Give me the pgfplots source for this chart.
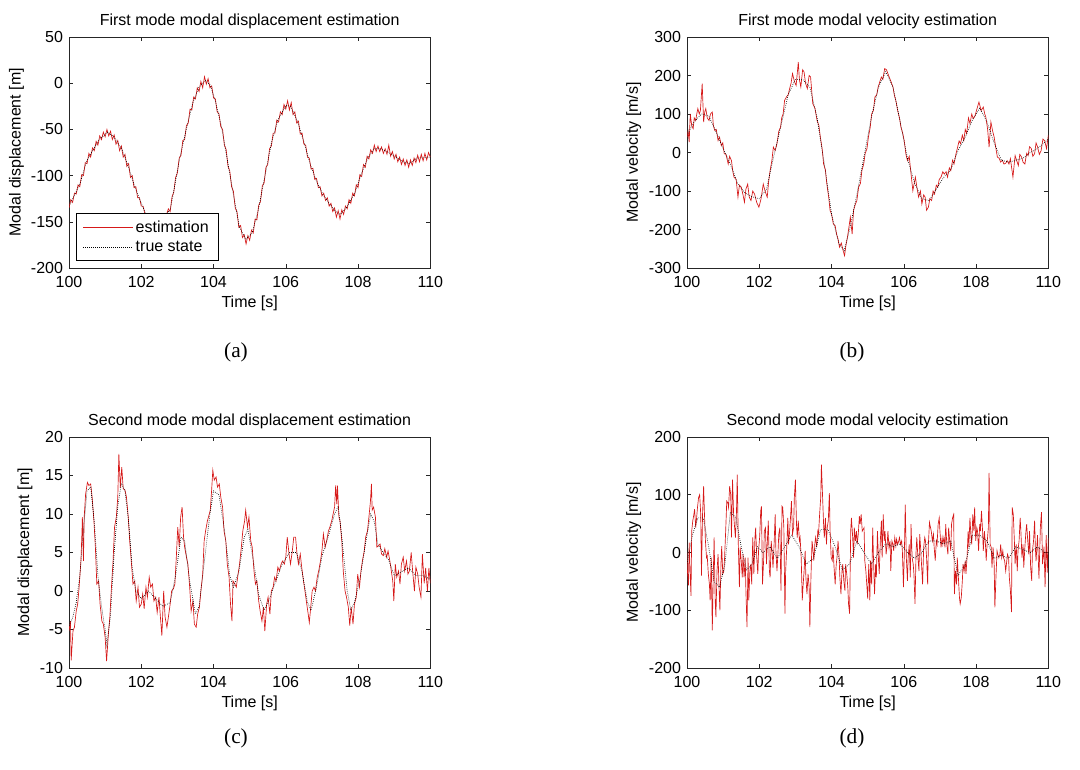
\documentclass[border=0pt]{standalone}
\usepackage{fontspec}
\setmainfont{Liberation Sans}
\newfontfamily\capfont{Liberation Serif}
\usepackage{pgfplots}
\pgfplotsset{compat=1.18}
\definecolor{est}{rgb}{0.84,0.1,0.1}
\newcommand{\fs}{\fontsize{12}{13}\selectfont}
\pgfplotsset{
 mat/.style={
  scale only axis, width=271pt, height=173.25pt,
  xmin=100, xmax=110, xtick={100,102,104,106,108,110},
  tick align=inside, major tick length=3pt,
  axis line style={line width=0.5pt, black!85},
  every tick/.style={black!85, line width=0.4pt},
  /pgf/number format/assume math mode=true,
  /pgf/number format/1000 sep={},
  scaled ticks=false,
  tick label style={font=\fs},
  xticklabel style={inner sep=0pt, anchor=center, yshift=-10.7pt},
  yticklabel style={inner sep=0pt, anchor=east, xshift=-4.3pt},
  every axis title/.style={font=\fs, at={(0.5,1)}, anchor=center, yshift=11.5pt, inner sep=0pt},
  every axis x label/.style={at={(0.5,0)}, anchor=center, yshift=-26.3pt, font=\fs},
  xlabel={Time [s]},
  legend image code/.code={\draw[##1] (0pt,0pt) -- (37pt,0pt);},
 },
 ylab/.style={every axis y label/.style={at={(0,0.5)}, xshift=-#1, rotate=90, anchor=center, font=\fs}},
 est/.style={color=est, line width=0.5pt},
 tru/.style={black, densely dotted, line width=0.5pt},
}
\begin{document}
\begin{tikzpicture}
\path (0pt,0pt) rectangle (810pt,576.75pt);
% (a)
\begin{axis}[mat, ylab=39.3pt, at={(51.75pt,375.75pt)}, anchor=south west,
  ymin=-200, ymax=50, ytick={-200,-150,...,50},
  title={First mode modal displacement estimation},
  ylabel={Modal displacement [m]},
  legend style={at={(0,0)}, anchor=south west, xshift=5.3pt, yshift=5.3pt, draw=black, line width=0.5pt, font=\fs, inner xsep=5pt, inner ysep=3.5pt, row sep=1pt, cells={anchor=west}, fill=white}]
\addplot[est] table[header=false, row sep=\\, y index=0, x expr=100+0.05*\coordindex] {
-135\\ -126\\ -129\\ -119\\ -120\\ -110\\ -112\\ -99\\ -100\\ -86\\
-87\\ -76\\ -80\\ -70\\ -73\\ -63\\ -67\\ -57\\ -61\\ -53\\
-58\\ -50\\ -57\\ -52\\ -61\\ -56\\ -66\\ -62\\ -73\\ -68\\
-80\\ -77\\ -90\\ -87\\ -102\\ -100\\ -113\\ -112\\ -124\\ -124\\
-133\\ -133\\ -141\\ -141\\ -148\\ -147\\ -151\\ -148\\ -152\\ -148\\
-151\\ -145\\ -147\\ -141\\ -142\\ -136\\ -139\\ -123\\ -118\\ -102\\
-97\\ -81\\ -78\\ -62\\ -61\\ -46\\ -43\\ -28\\ -29\\ -15\\
-17\\ -5\\ -9\\ 2\\ -5\\ 7\\ -1\\ 5\\ -5\\ -3\\
-16\\ -17\\ -31\\ -33\\ -47\\ -50\\ -67\\ -72\\ -90\\ -95\\
-112\\ -117\\ -135\\ -139\\ -156\\ -154\\ -167\\ -164\\ -174\\ -165\\
-170\\ -159\\ -162\\ -147\\ -148\\ -132\\ -128\\ -111\\ -108\\ -91\\
-88\\ -71\\ -68\\ -54\\ -54\\ -40\\ -42\\ -31\\ -34\\ -23\\
-28\\ -19\\ -29\\ -21\\ -34\\ -31\\ -43\\ -41\\ -55\\ -54\\
-66\\ -67\\ -80\\ -81\\ -93\\ -92\\ -104\\ -103\\ -113\\ -112\\
-122\\ -119\\ -127\\ -124\\ -133\\ -130\\ -139\\ -135\\ -145\\ -138\\
-147\\ -137\\ -142\\ -133\\ -136\\ -126\\ -130\\ -119\\ -122\\ -110\\
-113\\ -99\\ -101\\ -88\\ -91\\ -79\\ -82\\ -72\\ -76\\ -67\\
-74\\ -68\\ -74\\ -69\\ -76\\ -71\\ -77\\ -67\\ -79\\ -74\\
-82\\ -77\\ -85\\ -80\\ -88\\ -82\\ -89\\ -83\\ -91\\ -83\\
-89\\ -81\\ -86\\ -78\\ -85\\ -77\\ -84\\ -76\\ -83\\ -75\\
-80\\
};
\addlegendentry{estimation}
\addplot[tru] coordinates {(100,-133)(100.13,-123)(100.31,-108)(100.49,-84)(100.67,-72)(100.84,-61)(101.07,-53)(101.24,-58)(101.47,-72)(101.64,-90)(101.82,-112)(102.0,-130)(102.13,-142)(102.35,-150)(102.55,-148)(102.8,-137)(102.93,-110)(103.07,-80)(103.24,-51)(103.42,-22)(103.6,-4)(103.78,3)(103.91,-2)(104.04,-18)(104.22,-47)(104.4,-87)(104.53,-116)(104.71,-155)(104.89,-169)(105.07,-162)(105.24,-137)(105.42,-101)(105.6,-65)(105.78,-40)(106.0,-24)(106.13,-25)(106.31,-40)(106.49,-62)(106.67,-87)(106.84,-105)(107.02,-120)(107.2,-130)(107.38,-139)(107.51,-142)(107.69,-134)(107.91,-119)(108.09,-98)(108.27,-81)(108.44,-71)(108.62,-71)(108.8,-74)(109.02,-79)(109.24,-85)(109.42,-87)(109.63,-81)(110,-80)};
\addlegendentry{true state}
\end{axis}
% (b)
\begin{axis}[mat, ylab=40pt, at={(515.25pt,375.75pt)}, anchor=south west,
  ymin=-300, ymax=300, ytick={-300,-200,...,300},
  title={First mode modal velocity estimation},
  ylabel={Modal velocity [m/s]}]
\addplot[est] coordinates {(100.00,40)(100.03,55)(100.06,27)(100.09,100)(100.13,70)(100.17,62)(100.20,90)(100.24,83)(100.27,100)(100.30,114)(100.34,100)(100.37,109)(100.42,179)(100.46,79)(100.49,105)(100.52,114)(100.56,90)(100.61,83)(100.65,100)(100.70,105)(100.73,70)(100.77,57)(100.81,60)(100.86,31)(100.90,40)(100.95,18)(100.99,25)(101.03,-3)(101.08,-5)(101.14,-30)(101.18,-10)(101.23,-21)(101.27,-50)(101.30,-64)(101.36,-70)(101.41,-116)(101.45,-85)(101.50,-90)(101.55,-110)(101.59,-129)(101.63,-95)(101.68,-82)(101.72,-115)(101.77,-125)(101.82,-100)(101.87,-108)(101.93,-130)(101.99,-142)(102.05,-120)(102.11,-82)(102.16,-100)(102.22,-116)(102.26,-75)(102.30,-47)(102.35,-20)(102.39,14)(102.44,5)(102.49,23)(102.54,55)(102.59,66)(102.62,90)(102.66,100)(102.70,135)(102.75,144)(102.80,150)(102.84,166)(102.88,180)(102.92,205)(102.97,185)(103.02,174)(103.08,235)(103.11,190)(103.15,170)(103.20,215)(103.24,209)(103.28,180)(103.33,166)(103.38,200)(103.42,196)(103.48,127)(103.54,115)(103.60,83)(103.65,70)(103.69,40)(103.74,10)(103.78,-30)(103.83,-45)(103.87,-82)(103.92,-115)(103.96,-151)(104.00,-160)(104.05,-186)(104.10,-190)(104.14,-212)(104.18,-225)(104.22,-246)(104.27,-235)(104.31,-251)(104.36,-268)(104.40,-240)(104.44,-220)(104.48,-195)(104.52,-168)(104.57,-212)(104.61,-150)(104.66,-134)(104.70,-125)(104.75,-90)(104.80,-80)(104.84,-47)(104.89,-30)(104.93,-3)(104.98,10)(105.02,40)(105.07,65)(105.11,100)(105.16,110)(105.20,144)(105.25,150)(105.29,170)(105.34,185)(105.38,196)(105.42,190)(105.47,218)(105.52,215)(105.56,205)(105.60,195)(105.65,183)(105.70,170)(105.74,148)(105.78,135)(105.83,109)(105.88,90)(105.92,66)(105.97,50)(106.01,31)(106.06,-5)(106.10,-21)(106.15,-10)(106.19,-47)(106.25,-99)(106.32,-64)(106.37,-95)(106.41,-116)(106.46,-100)(106.50,-134)(106.55,-110)(106.59,-116)(106.63,-150)(106.68,-142)(106.72,-120)(106.77,-125)(106.81,-100)(106.85,-108)(106.90,-85)(106.94,-90)(106.98,-70)(107.03,-64)(107.08,-50)(107.12,-56)(107.17,-50)(107.21,-64)(107.26,-40)(107.30,-47)(107.35,-20)(107.39,-30)(107.44,-5)(107.48,10)(107.53,30)(107.57,23)(107.62,45)(107.66,31)(107.70,60)(107.74,49)(107.79,90)(107.83,75)(107.88,100)(107.92,88)(107.97,95)(108.01,109)(108.08,131)(108.14,109)(108.20,118)(108.24,100)(108.27,92)(108.32,60)(108.36,14)(108.41,79)(108.46,55)(108.50,40)(108.55,10)(108.59,-12)(108.64,-15)(108.68,-25)(108.73,-20)(108.77,-30)(108.82,-28)(108.86,-21)(108.91,-30)(108.95,-16)(109.02,-64)(109.08,-8)(109.12,-20)(109.17,-34)(109.21,-5)(109.26,-12)(109.30,-25)(109.35,-30)(109.40,-2)(109.44,-8)(109.48,15)(109.53,10)(109.57,-10)(109.62,-3)(109.66,25)(109.70,15)(109.75,-5)(109.80,5)(109.85,35)(109.90,30)(109.95,10)(110.00,45)};
\addplot[tru] coordinates {(100,45)(100.2,80)(100.4,100)(100.6,95)(100.8,55)(101.0,10)(101.2,-30)(101.4,-80)(101.6,-105)(101.8,-115)(102.0,-120)(102.2,-95)(102.4,-10)(102.6,70)(102.8,150)(103.0,190)(103.2,190)(103.4,170)(103.6,90)(103.8,-30)(104.0,-160)(104.2,-235)(104.35,-255)(104.5,-200)(104.7,-110)(104.9,-10)(105.1,90)(105.3,170)(105.5,210)(105.7,170)(105.9,80)(106.1,-15)(106.3,-80)(106.5,-120)(106.7,-125)(106.9,-95)(107.1,-65)(107.3,-45)(107.5,5)(107.7,40)(107.9,85)(108.1,115)(108.3,80)(108.5,25)(108.7,-20)(108.9,-25)(109.1,-20)(109.3,-15)(109.5,0)(109.7,10)(110,35)};
\end{axis}
% (c)
\begin{axis}[mat, ylab=33pt, at={(51.75pt,75.75pt)}, anchor=south west,
  ymin=-10, ymax=20, ytick={-10,-5,...,20},
  title={Second mode modal displacement estimation},
  ylabel={Modal displacement [m]}]
\addplot[est] coordinates {(100.00,-5.2)(100.04,-3.9)(100.06,-9)(100.11,-5.2)(100.15,-4.7)(100.20,-2.6)(100.24,-1.7)(100.28,0.5)(100.33,3.9)(100.36,7.8)(100.37,9.6)(100.40,3.9)(100.42,9.6)(100.46,12.6)(100.51,14.1)(100.55,13.7)(100.60,13.9)(100.64,12.2)(100.69,9.1)(100.73,5.7)(100.77,0.9)(100.82,1.3)(100.86,-1.7)(100.91,-3.9)(100.95,-4.3)(101.00,-6)(101.04,-9.1)(101.09,-5.6)(101.13,-3.4)(101.18,0.9)(101.22,3.9)(101.26,8.3)(101.31,9.6)(101.35,12.2)(101.38,17.8)(101.42,13.4)(101.46,16.1)(101.50,13.3)(101.55,13.1)(101.59,12.2)(101.64,9.6)(101.68,6.5)(101.73,3.5)(101.77,0.9)(101.82,1.3)(101.86,-1.3)(101.91,0.5)(101.95,-2.1)(102.00,-1.7)(102.04,-0.4)(102.08,-2.3)(102.13,0.5)(102.17,-0.8)(102.22,1.8)(102.26,0.5)(102.31,0.9)(102.35,-1.3)(102.40,-0.8)(102.44,-2.8)(102.49,-0.8)(102.53,-3.4)(102.57,-5.8)(102.62,0)(102.66,-3.4)(102.71,-4.7)(102.75,-3.4)(102.80,-1.7)(102.84,0)(102.89,0.3)(102.93,0.9)(102.97,4.4)(103.01,8.3)(103.05,5.7)(103.09,9.6)(103.13,10.9)(103.17,7)(103.20,5.7)(103.25,4.4)(103.29,3.5)(103.34,0.5)(103.38,-2.6)(103.43,-1.3)(103.47,-4.3)(103.52,-4.7)(103.56,-3)(103.61,-2.1)(103.65,0)(103.70,2.2)(103.74,6.5)(103.78,7.8)(103.83,9.1)(103.86,9.6)(103.91,10.5)(103.95,13.3)(103.98,15.7)(104.02,14.4)(104.07,14.8)(104.11,13.5)(104.16,13.9)(104.20,12.2)(104.25,10.9)(104.29,7.8)(104.34,6.5)(104.38,3.5)(104.43,1.8)(104.47,-1.7)(104.51,-3.9)(104.54,1.3)(104.59,0.9)(104.63,0.5)(104.68,2.2)(104.72,3.5)(104.77,5.7)(104.81,7.8)(104.86,9.1)(104.89,10.5)(104.94,8.3)(104.98,9.6)(105.03,6.5)(105.07,5.7)(105.12,2.6)(105.16,0.9)(105.20,1.3)(105.25,-1.3)(105.29,-2.6)(105.34,-3.9)(105.38,-2.1)(105.42,-5.2)(105.47,-1.7)(105.51,-0.8)(105.56,-3)(105.60,0)(105.65,0.5)(105.69,1.8)(105.73,1.3)(105.78,3.1)(105.82,2.6)(105.87,3.5)(105.91,3.9)(105.96,3.5)(106.00,4.4)(106.04,7)(106.09,4.8)(106.13,3.5)(106.18,5.2)(106.22,7)(106.27,7)(106.31,4.8)(106.35,3.5)(106.40,4.8)(106.44,3.1)(106.49,1.3)(106.53,0)(106.58,-1.7)(106.62,-3)(106.65,-4.1)(106.69,-2.1)(106.73,0)(106.78,0.5)(106.82,0)(106.87,1.8)(106.91,2.6)(106.96,3.9)(107.00,5.2)(107.04,7.4)(107.09,5.7)(107.13,6.5)(107.18,7.8)(107.22,8.3)(107.27,9.1)(107.31,10)(107.35,10.9)(107.38,13.7)(107.41,11.3)(107.43,13.7)(107.47,9.6)(107.50,9.1)(107.55,6.5)(107.59,2.6)(107.64,0)(107.68,-0.8)(107.73,-2.1)(107.77,-4.5)(107.81,-2.1)(107.86,-4.3)(107.90,-1.7)(107.95,-0.8)(107.99,2.2)(108.04,0.5)(108.08,2.6)(108.12,3.9)(108.17,5.2)(108.21,7)(108.26,7.8)(108.30,9.6)(108.34,11.5)(108.37,13.9)(108.39,10.5)(108.43,10.9)(108.48,9.6)(108.52,5.7)(108.57,5.9)(108.61,6.1)(108.65,4.8)(108.70,4.6)(108.74,5.5)(108.79,4.4)(108.83,5.2)(108.88,3.9)(108.92,2.6)(108.96,1.3)(108.99,-1.3)(109.03,3.5)(109.07,1.8)(109.12,2.6)(109.16,0.9)(109.20,3.5)(109.25,4.4)(109.29,2.6)(109.34,3.9)(109.38,2.2)(109.42,2.6)(109.47,5)(109.51,2.6)(109.56,0)(109.60,3.1)(109.65,2.2)(109.69,0.5)(109.74,-0.8)(109.78,4.8)(109.83,1)(109.87,3)(109.92,0)(109.96,3)(110.00,1)};
\addplot[tru] coordinates {(100,-4.5)(100.1,-3.5)(100.2,-1.5)(100.3,2)(100.4,8)(100.5,13)(100.6,13.5)(100.7,9)(100.8,2)(100.9,-2)(101.0,-5)(101.05,-7)(101.15,-3)(101.25,5)(101.35,11)(101.45,14)(101.55,13)(101.65,9)(101.75,3)(101.85,0)(102,-1)(102.2,0)(102.4,-1)(102.6,-2)(102.8,-1.5)(102.95,2)(103.1,7)(103.2,6.5)(103.35,1)(103.5,-3)(103.6,-2)(103.75,4)(103.9,10)(104.0,13)(104.15,12.5)(104.3,8)(104.45,2)(104.55,0.5)(104.7,2.5)(104.85,7)(104.95,8)(105.1,4)(105.25,-0.5)(105.4,-2.5)(105.55,-1)(105.7,1)(105.9,3.5)(106.1,5)(106.3,5)(106.45,2.5)(106.6,-1.5)(106.7,-2.5)(106.85,0.5)(107.0,4.5)(107.2,7.5)(107.35,10)(107.45,11)(107.55,7)(107.7,0)(107.8,-2.5)(107.9,-1.5)(108.05,1.5)(108.2,6)(108.35,10)(108.45,9)(108.55,6)(108.7,5)(108.85,4)(109.0,2)(109.2,2.5)(109.4,3)(109.6,2)(109.8,2)(110,1.5)};
\end{axis}
% (d)
\begin{axis}[mat, ylab=40pt, at={(515.25pt,75.75pt)}, anchor=south west,
  ymin=-200, ymax=200, ytick={-200,-100,...,200},
  title={Second mode modal velocity estimation},
  ylabel={Modal velocity [m/s]}]
\addplot[est] coordinates {(100.00,0)(100.01,-30)(100.04,-57)(100.06,17)(100.09,-43)(100.11,-75)(100.13,37)(100.16,55)(100.19,66)(100.21,75)(100.24,43)(100.27,63)(100.29,78)(100.32,95)(100.35,100)(100.38,66)(100.40,-40)(100.43,66)(100.46,115)(100.48,72)(100.51,20)(100.54,-9)(100.56,-6)(100.59,-37)(100.62,-55)(100.64,-83)(100.67,-9)(100.70,-135)(100.72,-60)(100.75,26)(100.78,-83)(100.80,-112)(100.83,-32)(100.86,-3)(100.88,-49)(100.91,-100)(100.94,-20)(100.96,11)(100.99,-37)(101.02,-32)(101.04,-9)(101.07,37)(101.10,89)(101.13,86)(101.15,78)(101.18,115)(101.21,100)(101.23,26)(101.26,126)(101.29,66)(101.31,49)(101.34,26)(101.37,72)(101.39,135)(101.42,14)(101.45,-60)(101.47,9)(101.50,-14)(101.53,-43)(101.55,-3)(101.58,-43)(101.61,-9)(101.63,-66)(101.66,-129)(101.69,-9)(101.71,-83)(101.74,-32)(101.77,-20)(101.79,-55)(101.82,26)(101.85,-37)(101.88,26)(101.90,43)(101.93,-9)(101.96,-37)(101.98,3)(102.01,26)(102.04,72)(102.06,80)(102.09,-55)(102.12,-14)(102.14,37)(102.17,43)(102.20,-20)(102.22,14)(102.25,55)(102.28,-32)(102.30,-43)(102.33,20)(102.36,-3)(102.38,-26)(102.41,14)(102.44,66)(102.46,3)(102.49,-32)(102.52,3)(102.54,32)(102.57,43)(102.60,-66)(102.63,80)(102.65,78)(102.68,43)(102.71,-106)(102.73,-32)(102.76,9)(102.79,60)(102.81,14)(102.84,37)(102.87,66)(102.89,89)(102.92,32)(102.95,43)(102.97,95)(103.00,126)(103.03,49)(103.05,26)(103.08,55)(103.11,20)(103.13,26)(103.16,-9)(103.19,-83)(103.21,-60)(103.24,-32)(103.27,3)(103.29,-43)(103.32,-72)(103.35,-37)(103.38,-60)(103.40,-129)(103.43,-43)(103.46,20)(103.48,9)(103.51,-14)(103.54,17)(103.56,26)(103.59,9)(103.62,37)(103.64,32)(103.67,66)(103.70,95)(103.72,152)(103.75,100)(103.78,49)(103.80,26)(103.83,60)(103.86,14)(103.88,43)(103.91,55)(103.94,103)(103.96,37)(103.99,-9)(104.02,-14)(104.04,9)(104.07,-26)(104.10,-55)(104.13,-20)(104.15,-9)(104.18,20)(104.21,-9)(104.23,-43)(104.26,-72)(104.29,-32)(104.31,-20)(104.34,-49)(104.37,-66)(104.39,-20)(104.42,-37)(104.45,-60)(104.47,-89)(104.50,-106)(104.53,37)(104.55,60)(104.58,32)(104.61,-9)(104.63,43)(104.66,20)(104.69,37)(104.71,14)(104.74,32)(104.77,63)(104.79,49)(104.82,66)(104.85,37)(104.90,43)(104.92,-14)(104.95,-32)(104.98,-60)(105.00,-80)(105.03,-20)(105.06,-83)(105.08,-14)(105.11,-55)(105.14,43)(105.16,-9)(105.19,-72)(105.22,-20)(105.24,-43)(105.27,37)(105.30,-14)(105.32,-37)(105.35,20)(105.38,55)(105.40,-9)(105.43,66)(105.46,20)(105.48,37)(105.51,-3)(105.54,14)(105.56,37)(105.59,9)(105.62,20)(105.64,-32)(105.67,20)(105.70,14)(105.72,3)(105.75,26)(105.78,11)(105.80,23)(105.83,14)(105.86,20)(105.88,26)(105.91,14)(105.94,20)(105.96,3)(105.99,-60)(106.02,14)(106.04,83)(106.07,-9)(106.10,-49)(106.12,-9)(106.15,14)(106.18,-43)(106.20,49)(106.23,-9)(106.26,-20)(106.28,-37)(106.31,-89)(106.34,3)(106.36,26)(106.39,-9)(106.42,-32)(106.44,32)(106.47,3)(106.50,-32)(106.52,-55)(106.55,9)(106.58,26)(106.60,20)(106.63,-9)(106.66,-55)(106.68,14)(106.71,52)(106.74,43)(106.76,37)(106.79,20)(106.82,32)(106.84,9)(106.87,-14)(106.90,20)(106.92,14)(106.95,49)(106.98,60)(107.00,37)(107.03,9)(107.06,26)(107.08,14)(107.11,26)(107.14,9)(107.16,49)(107.19,14)(107.22,-3)(107.24,43)(107.27,20)(107.30,3)(107.32,49)(107.35,60)(107.38,66)(107.40,-72)(107.43,-32)(107.46,-55)(107.48,-9)(107.51,-43)(107.54,-78)(107.56,-89)(107.59,-78)(107.62,-49)(107.64,-20)(107.67,-32)(107.70,-14)(107.72,-37)(107.75,-9)(107.78,37)(107.80,9)(107.83,60)(107.86,26)(107.88,14)(107.91,66)(107.94,37)(107.96,78)(107.99,20)(108.02,43)(108.04,37)(108.07,3)(108.10,49)(108.12,37)(108.15,72)(108.18,37)(108.20,3)(108.23,37)(108.26,14)(108.28,-14)(108.31,20)(108.34,43)(108.36,138)(108.39,14)(108.42,9)(108.44,-26)(108.47,9)(108.50,-20)(108.52,-95)(108.55,-43)(108.58,3)(108.60,-3)(108.63,-9)(108.66,-3)(108.68,14)(108.71,-9)(108.74,3)(108.76,-9)(108.79,-14)(108.82,-32)(108.84,-20)(108.87,-3)(108.90,-9)(108.92,-43)(108.95,-66)(108.98,-103)(109.00,78)(109.03,66)(109.06,20)(109.08,-20)(109.11,14)(109.14,-32)(109.16,3)(109.19,20)(109.22,60)(109.24,37)(109.27,-9)(109.30,14)(109.32,-26)(109.35,9)(109.38,37)(109.40,49)(109.43,20)(109.46,-3)(109.48,37)(109.51,-26)(109.54,-49)(109.56,3)(109.59,20)(109.62,55)(109.64,9)(109.66,-15)(109.70,30)(109.74,-45)(109.78,45)(109.81,70)(109.84,-20)(109.88,10)(109.91,-60)(109.94,30)(109.97,-35)(110.00,25)};
\addplot[tru] coordinates {(100,-20)(100.15,30)(100.3,60)(100.45,60)(100.6,10)(100.75,-50)(100.9,-60)(101.05,-20)(101.2,70)(101.35,60)(101.5,10)(101.65,-30)(101.8,-20)(101.95,10)(102.1,0)(102.3,10)(102.5,-10)(102.7,10)(102.9,30)(103.1,10)(103.3,-20)(103.5,-10)(103.7,40)(103.9,40)(104.1,10)(104.3,-30)(104.5,-20)(104.7,20)(104.9,0)(105.1,-20)(105.3,0)(105.5,15)(105.7,10)(105.9,15)(106.1,0)(106.3,-10)(106.5,0)(106.7,20)(106.9,20)(107.1,15)(107.3,20)(107.5,-40)(107.7,-20)(107.9,30)(108.1,30)(108.3,20)(108.5,-10)(108.7,-5)(108.9,-10)(109.1,10)(109.3,5)(109.5,0)(109.7,10)(109.9,0)(110,0)};
\end{axis}
\node[font=\capfont\fontsize{16}{18}\selectfont] at (177pt,312.75pt) {(a)};
\node[font=\capfont\fontsize{16}{18}\selectfont] at (639pt,312.75pt) {(b)};
\node[font=\capfont\fontsize{16}{18}\selectfont] at (177pt,23.25pt) {(c)};
\node[font=\capfont\fontsize{16}{18}\selectfont] at (639pt,23.25pt) {(d)};
\end{tikzpicture}
\end{document}
